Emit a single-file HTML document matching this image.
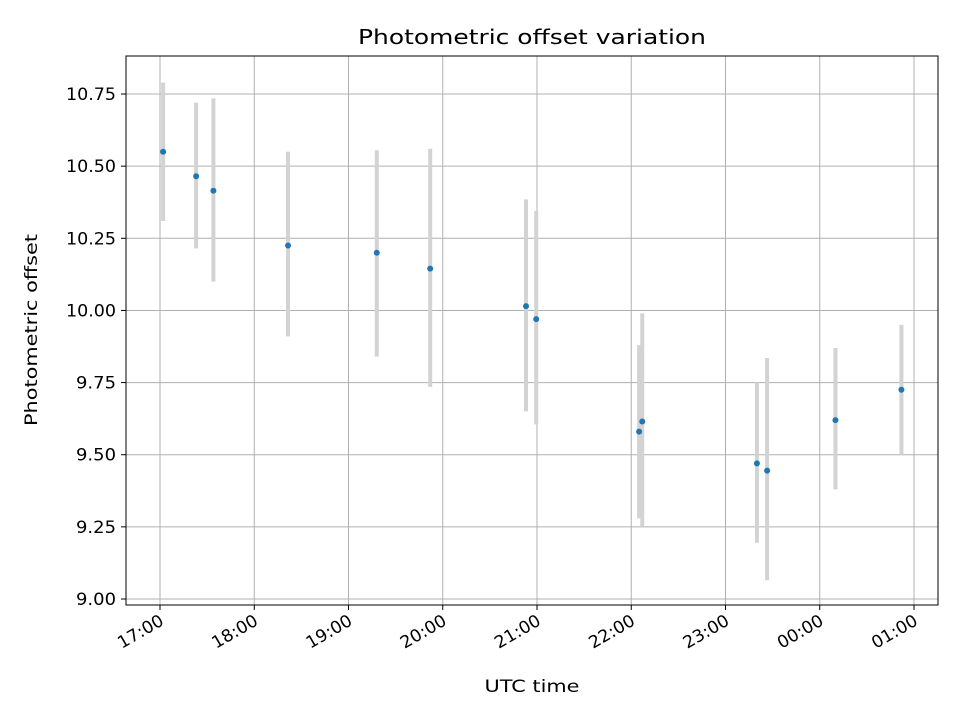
<!DOCTYPE html>
<html><head><meta charset="utf-8"><style>
body{margin:0;background:#fff;}
svg text{font-family:"DejaVu Sans","Liberation Sans",sans-serif;}
</style></head><body>
<svg id="chart" width="960" height="720" xmlns="http://www.w3.org/2000/svg">
<rect width="960" height="720" fill="#fff"/>
<g id="grid"></g><g id="errs"></g><g id="pts"></g>
<rect x="126" y="56" width="812" height="549" fill="none" stroke="#000" stroke-width="1"/>
<g id="xt"></g><g id="yt"></g>
<text x="532" y="44" text-anchor="middle" font-size="20" textLength="348" lengthAdjust="spacingAndGlyphs">Photometric offset variation</text>
<text x="532" y="692" text-anchor="middle" font-size="17" textLength="95" lengthAdjust="spacingAndGlyphs">UTC time</text>
<text transform="translate(37,330) rotate(-90)" text-anchor="middle" font-size="17" textLength="192" lengthAdjust="spacingAndGlyphs">Photometric offset</text>
</svg>
<script>
// minutes since 17:00
const times=[2,23,34,81.5,138,172,233,239.5,305,307,380,386.5,430,472];
const values=[10.55,10.465,10.415,10.225,10.20,10.145,10.015,9.97,9.58,9.615,9.47,9.445,9.62,9.725];
const errLow=[10.31,10.215,10.10,9.91,9.84,9.735,9.65,9.605,9.28,9.25,9.195,9.065,9.38,9.50];
const errHigh=[10.79,10.72,10.735,10.55,10.555,10.56,10.385,10.345,9.88,9.99,9.75,9.835,9.87,9.95];
const xTicks=[0,60,120,180,240,300,360,420,480];
const xTickLabels=["17:00","18:00","19:00","20:00","21:00","22:00","23:00","00:00","01:00"];
const yTicks=[9.00,9.25,9.50,9.75,10.00,10.25,10.50,10.75];
const yTickLabels=["9.00","9.25","9.50","9.75","10.00","10.25","10.50","10.75"];
const NS="http://www.w3.org/2000/svg";
const X=m=>160+m*(94.25/60);
const Y=v=>599-(v-9.0)*(72.14/0.25);
function mk(t,a,p){const e=document.createElementNS(NS,t);for(const k in a)e.setAttribute(k,a[k]);p.appendChild(e);return e;}
const grid=document.getElementById('grid'),xt=document.getElementById('xt'),yt=document.getElementById('yt');
xTicks.forEach((m,i)=>{const x=X(m);
 const g=mk('line',{x1:x,x2:x,y1:56,y2:605,stroke:'#b0b0b0','stroke-width':1},grid);
 
 mk('line',{x1:x,x2:x,y1:605,y2:610,stroke:'#000'},xt);
 const t=mk('text',{x:0,y:0,'font-size':17,'text-anchor':'end',textLength:50,lengthAdjust:'spacingAndGlyphs',transform:`translate(${x+5},${624}) rotate(-30)`},xt);
 t.textContent=xTickLabels[i];
 
});
yTicks.forEach((v,i)=>{const y=Y(v);
 const g=mk('line',{x1:126,x2:938,y1:y,y2:y,stroke:'#b0b0b0','stroke-width':1},grid);
 
 mk('line',{x1:121,x2:126,y1:y,y2:y,stroke:'#000'},yt);
 const t=mk('text',{x:116,y:y+6,'font-size':17,'text-anchor':'end',textLength:yTickLabels[i].length*10,lengthAdjust:'spacingAndGlyphs'},yt);
 t.textContent=yTickLabels[i];
 
});
const errs=document.getElementById('errs'),pts=document.getElementById('pts');
times.forEach((m,i)=>{const x=X(m);
 const e=mk('line',{x1:x,x2:x,y1:Y(errHigh[i]),y2:Y(errLow[i]),stroke:'#d3d3d3','stroke-width':4},errs);
 
 const c=mk('circle',{cx:x,cy:Y(values[i]),r:3,fill:'#1f77b4'},pts);
 
});
</script>
</body></html>
